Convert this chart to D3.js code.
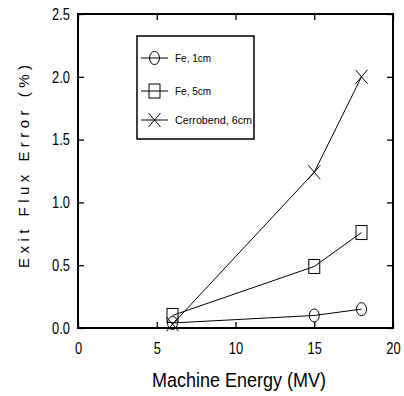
<!DOCTYPE html>
<html>
<head>
<meta charset="utf-8">
<script src="https://cdn.jsdelivr.net/npm/d3@7"></script>
<style>
  body { margin: 0; background: #fff; }
  svg text { font-family: "Liberation Sans", Arial, sans-serif; fill: #000; }
</style>
</head>
<body>
<svg id="chart" width="404" height="396"></svg>
<script>
// data
var energy = [6, 15, 18];
var fe1 = [0.04, 0.10, 0.15];
var fe5 = [0.10, 0.49, 0.76];
var cerro = [0.03, 1.24, 2.00];
var seriesNames = ["Fe, 1cm", "Fe, 5cm", "Cerrobend, 6cm"];
var seriesShapes = ["circle", "square", "cross"];
var xTicks = [0, 5, 10, 15, 20];
var yTicks = [0, 0.5, 1.0, 1.5, 2.0, 2.5];

var svg = d3.select("#chart");
var pLeft = 78, pRight = 393, pTop = 14, pBottom = 328;

var x = d3.scaleLinear().domain([0, 20]).range([pLeft, pRight]);
var y = d3.scaleLinear().domain([0, 2.5]).range([pBottom, pTop]);

/** squeezes a text horizontally, like the narrow plotter font */
function squeeze(sel, f) {
    sel.each(function() {
        var w = this.getComputedTextLength();
        d3.select(this).attr("textLength", w * f).attr("lengthAdjust", "spacingAndGlyphs");
    });
}

/** draws a marker of the given shape centred at cx, cy */
function marker(g, shape, cx, cy) {
    if (shape == "circle") {
        g.append("ellipse").attr("cx", cx).attr("cy", cy).attr("rx", 5).attr("ry", 6.5)
         .attr("fill", "none").attr("stroke", "#000").attr("stroke-width", 1);
    } else if (shape == "square") {
        g.append("rect").attr("x", cx - 5.5).attr("y", cy - 7).attr("width", 11).attr("height", 14)
         .attr("fill", "none").attr("stroke", "#000").attr("stroke-width", 1);
    } else {
        g.append("path").attr("d", "M" + (cx - 6) + "," + (cy - 7) + "L" + (cx + 6) + "," + (cy + 7) +
            "M" + (cx + 6) + "," + (cy - 7) + "L" + (cx - 6) + "," + (cy + 7))
         .attr("fill", "none").attr("stroke", "#000").attr("stroke-width", 1);
    }
}

/** axes: ticks point inward on all four sides */
var fmtY = function(d) { return d3.format(".1f")(d); };
svg.append("g").attr("transform", "translate(" + pLeft + ",0)")
   .call(d3.axisLeft(y).tickValues(yTicks).tickSize(-6).tickPadding(8).tickFormat(fmtY))
   .call(function(g) { g.select(".domain").remove(); });
svg.append("g").attr("transform", "translate(" + pRight + ",0)")
   .call(d3.axisRight(y).tickValues(yTicks).tickSize(-6).tickFormat(""))
   .call(function(g) { g.select(".domain").remove(); });
svg.append("g").attr("transform", "translate(0," + pBottom + ")")
   .call(d3.axisBottom(x).tickValues(xTicks).tickSize(-6).tickPadding(14).tickFormat(d3.format("d")))
   .call(function(g) { g.select(".domain").remove(); });
svg.append("g").attr("transform", "translate(0," + pTop + ")")
   .call(d3.axisTop(x).tickValues(xTicks).tickSize(-6).tickFormat(""))
   .call(function(g) { g.select(".domain").remove(); });

svg.selectAll(".tick line").attr("stroke", "#000").attr("stroke-width", 1.3);
svg.selectAll(".tick text").attr("font-size", 16.5).attr("fill", "#000")
   .attr("font-family", "Liberation Sans, Arial, sans-serif").call(squeeze, 0.78);

svg.append("rect").attr("x", pLeft).attr("y", pTop).attr("width", pRight - pLeft).attr("height", pBottom - pTop)
   .attr("fill", "none").attr("stroke", "#000").attr("stroke-width", 2);

/** axis titles */
svg.append("text").attr("x", 152).attr("y", 387)
   .attr("font-size", 20.5).attr("textLength", 174).attr("lengthAdjust", "spacingAndGlyphs")
   .text("Machine Energy (MV)");
svg.append("text").attr("transform", "translate(29,268) rotate(-90)")
   .attr("font-size", 15).attr("textLength", 203).attr("lengthAdjust", "spacing")
   .text("Exit Flux Error (%)");

/** series */
var allSeries = [fe1, fe5, cerro];
var line = d3.line().x(function(d, i) { return x(energy[i]); }).y(function(d) { return y(d); });
allSeries.forEach(function(vals, k) {
    var g = svg.append("g");
    g.append("path").datum(vals).attr("d", line)
     .attr("fill", "none").attr("stroke", "#000").attr("stroke-width", 1);
    vals.forEach(function(v, i) { marker(g, seriesShapes[k], x(energy[i]), y(v)); });
});

/** legend */
var lg = svg.append("g");
lg.append("rect").attr("x", 137).attr("y", 36).attr("width", 117).attr("height", 103)
  .attr("fill", "#fff").attr("stroke", "#000").attr("stroke-width", 1.5);
var legY = [58, 91, 120];
var legW = [36, 36, 77];
seriesNames.forEach(function(name, k) {
    lg.append("line").attr("x1", 141).attr("x2", 168).attr("y1", legY[k]).attr("y2", legY[k])
      .attr("stroke", "#000").attr("stroke-width", 1);
    marker(lg, seriesShapes[k], 154.5, legY[k]);
    lg.append("text").attr("x", 175).attr("y", legY[k] + 4).attr("font-size", 11)
      .attr("textLength", legW[k]).attr("lengthAdjust", "spacingAndGlyphs").text(name);
});
</script>
</body>
</html>
